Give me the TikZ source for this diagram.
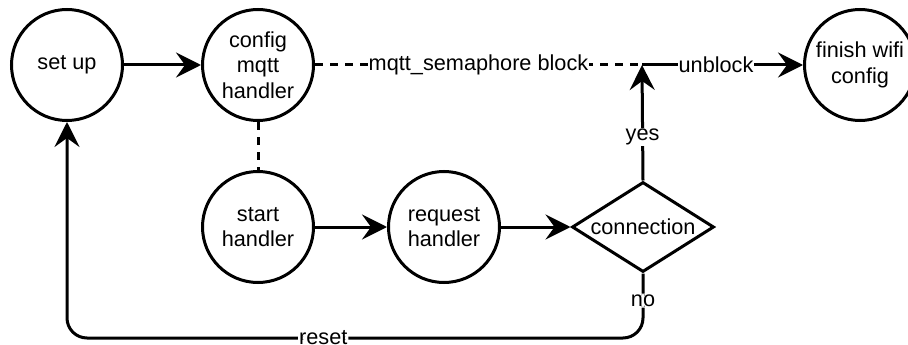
\documentclass[tikz,border=0pt]{standalone}
\usepackage{fontspec}
\setmainfont{Liberation Sans}
\usetikzlibrary{arrows.meta,shapes.geometric}

\begin{document}
\begin{tikzpicture}[x=1pt,y=-1pt,
  every node/.style={font=\fontsize{21.7}{25.5}\selectfont},
  state/.style={circle,draw,line width=3pt,minimum size=111pt,inner sep=0pt,align=center},
  decision/.style={diamond,draw,line width=3pt,aspect=1.58,minimum width=142pt,minimum height=90pt,inner sep=0pt},
  flow/.style={line width=3pt,-{Stealth[length=25pt,width=25pt,inset=9pt]}},
  dashlink/.style={line width=3pt,dash pattern=on 8pt off 7pt},
  lbl/.style={fill=white,inner sep=1pt}]
\useasboundingbox (0,0) rectangle (908,345);

% states
\node[state] (setup) at (67,65) {set up};
\node[state] (cfg)   at (258,65) {config\\mqtt\\handler};
\node[state] (start) at (258,227) {start\\handler};
\node[state] (req)   at (444,227) {request\\handler};
\node[decision] (conn) at (643,227) {connection};
\node[state] (fin)   at (860,65) {finish wifi\\config};

\coordinate (join) at (642,65);

% main flow
\draw[flow] (setup) -- (cfg);
\draw[flow] (start) -- (req);
\draw[flow] (req) -- (conn);

% semaphore coupling
\draw[dashlink] (cfg) -- (start);
\draw[dashlink] (cfg) -- node[lbl]{mqtt\_semaphore block} (join);

% successful connection releases the block
\draw[flow] (conn.north) -- node[lbl,pos=0.38]{yes} (join);
\draw[flow] (join) -- node[lbl,pos=0.46]{unblock} (fin);

% failure loops back to set up
\draw[flow,rounded corners=20pt] (conn.south) -- node[lbl,pos=0.42]{no} (conn.south |- 0,338)
  -- node[lbl,pos=0.555]{reset} (setup.south |- 0,338) -- (setup.south);
\end{tikzpicture}
\end{document}
